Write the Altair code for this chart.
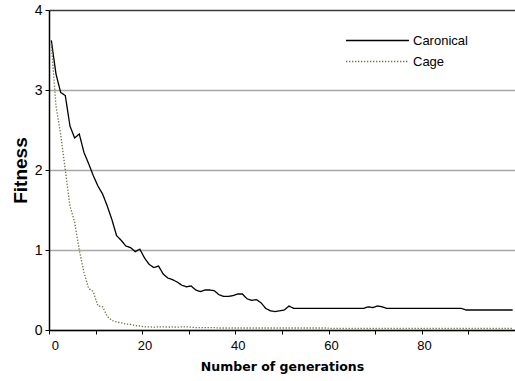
import altair as alt
import pandas as pd

generations = list(range(100))

caronical = [
    3.62, 3.20, 2.97, 2.93, 2.55, 2.40, 2.45, 2.22, 2.08, 1.93,
    1.80, 1.70, 1.55, 1.38, 1.18, 1.12, 1.05, 1.03, 0.98, 1.01,
    0.90, 0.82, 0.78, 0.80, 0.70, 0.65, 0.63, 0.60, 0.56, 0.54,
    0.55, 0.50, 0.48, 0.50, 0.50, 0.49, 0.44, 0.42, 0.42, 0.43,
    0.45, 0.45, 0.39, 0.37, 0.38, 0.34, 0.27, 0.24, 0.23, 0.24,
    0.25, 0.30, 0.27, 0.27, 0.27, 0.27, 0.27, 0.27, 0.27, 0.27,
    0.27, 0.27, 0.27, 0.27, 0.27, 0.27, 0.27, 0.27, 0.29, 0.28,
    0.30, 0.29, 0.27, 0.27, 0.27, 0.27, 0.27, 0.27, 0.27, 0.27,
    0.27, 0.27, 0.27, 0.27, 0.27, 0.27, 0.27, 0.27, 0.27, 0.25,
    0.25, 0.25, 0.25, 0.25, 0.25, 0.25, 0.25, 0.25, 0.25, 0.25,
]

cage = [
    3.58, 2.80, 2.45, 2.00, 1.55, 1.35, 1.00, 0.72, 0.52, 0.48,
    0.30, 0.29, 0.17, 0.12, 0.10, 0.09, 0.075, 0.07, 0.055, 0.05,
    0.04, 0.04, 0.035, 0.04, 0.04, 0.035, 0.04, 0.035, 0.04, 0.04,
    0.035, 0.03, 0.03, 0.03, 0.03, 0.03, 0.025, 0.025, 0.025, 0.025,
    0.025, 0.025, 0.025, 0.025, 0.025, 0.025, 0.025, 0.025, 0.025, 0.025,
    0.025, 0.025, 0.025, 0.025, 0.025, 0.025, 0.025, 0.025, 0.025, 0.025,
    0.02, 0.02, 0.02, 0.02, 0.02, 0.02, 0.02, 0.02, 0.02, 0.02,
    0.02, 0.02, 0.02, 0.02, 0.02, 0.02, 0.02, 0.02, 0.02, 0.02,
    0.02, 0.02, 0.02, 0.02, 0.02, 0.02, 0.02, 0.02, 0.02, 0.02,
    0.02, 0.02, 0.02, 0.02, 0.02, 0.02, 0.02, 0.02, 0.02, 0.02,
]

series_names = ["Caronical", "Cage"]
series_colors = ["#000000", "#6e6e3c"]
series_dash = [[1, 0], [1.3, 1.7]]

x_ticks = [-0.5, 9.5, 19.5, 29.5, 39.5, 49.5, 59.5, 69.5, 79.5, 89.5, 99.5]
y_ticks = [0, 1, 2, 3, 4]

df = pd.concat([
    pd.DataFrame({"gen": generations, "fitness": caronical, "series": series_names[0]}),
    pd.DataFrame({"gen": generations, "fitness": cage, "series": series_names[1]}),
])

LABEL_FONT = "Liberation Sans Narrow, Arial Narrow, Liberation Sans, Arial"

chart = alt.Chart(df).mark_line(strokeWidth=1.3).encode(
    x=alt.X(
        "gen:Q",
        scale=alt.Scale(domain=[-0.5, 99.5], nice=False, zero=False),
        axis=alt.Axis(
            title="Number of generations",
            values=x_ticks,
            labelExpr="(round(datum.value + 0.5) % 20 == 0 && datum.value < 99) ? format(round(datum.value + 0.5), 'd') : ''",
            labelOffset=2.3,
            grid=False,
            domainColor="#000000",
            domainWidth=1.5,
            tickColor="#000000",
            tickSize=4,
            tickWidth=1,
            labelFont=LABEL_FONT,
            labelFontSize=13,
            labelColor="#000000",
            labelPadding=5,
            titleFont="DejaVu Sans",
            titleFontSize=12.5,
            titleFontWeight="bold",
            titleColor="#000000",
            titlePadding=8,
        ),
    ),
    y=alt.Y(
        "fitness:Q",
        scale=alt.Scale(domain=[0, 4], nice=False),
        axis=alt.Axis(
            title="Fitness",
            values=y_ticks,
            format="d",
            grid=True,
            gridColor={"condition": {"test": "datum.value === 4", "value": "#3a3a3a"}, "value": "#a8a8a8"},
            gridWidth=1.5,
            domainColor="#000000",
            domainWidth=1.5,
            tickColor="#000000",
            tickSize=4,
            labelFont=LABEL_FONT,
            labelFontSize=14,
            labelColor="#000000",
            labelPadding=3,
            titleFont="Liberation Sans, Arial",
            titleFontSize=19,
            titleFontWeight="bold",
            titleColor="#000000",
            titlePadding=4,
        ),
    ),
    color=alt.Color(
        "series:N",
        scale=alt.Scale(domain=series_names, range=series_colors),
        legend=alt.Legend(
            title=None,
            orient="none",
            legendX=296,
            legendY=20,
            symbolType="stroke",
            symbolSize=3969,
            symbolStrokeWidth=1.3,
            labelFont=LABEL_FONT,
            labelFontSize=13,
            labelColor="#000000",
            labelOffset=3,
            clipHeight=21,
            rowPadding=-1,
            padding=0,
        ),
    ),
    strokeDash=alt.StrokeDash(
        "series:N",
        scale=alt.Scale(domain=series_names, range=series_dash),
        legend=None,
    ),
).properties(
    width=466,
    height=320,
    autosize=alt.AutoSizeParams(type="none"),
    padding={"left": 49, "top": 10, "right": 0, "bottom": 51},
).configure_view(
    stroke=None,
).configure(
    background="#ffffff",
)

chart.save("out.html", embed_options={"renderer": "svg", "actions": False})
